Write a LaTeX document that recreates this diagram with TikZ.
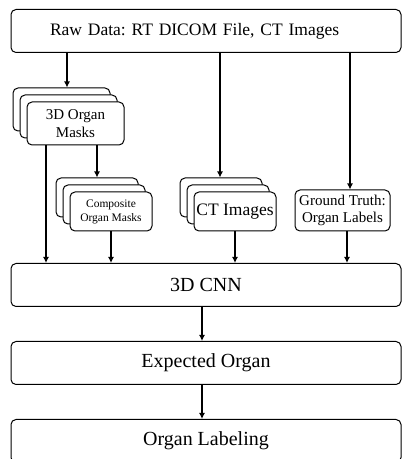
\documentclass[tikz,border=0pt]{standalone}
\usepackage{fontspec}
\setmainfont{Liberation Serif}
\frenchspacing
\usetikzlibrary{arrows.meta, shadows, positioning}
\tikzstyle{arrow} = [line width=1.6pt, -{Latex[length=6pt, width=6pt]}]

\begin{document}
\begin{tikzpicture}[x=1pt, y=1pt,
    every node/.style={rectangle, rounded corners=5pt, draw, line width=1pt, fill=white, align=center, inner sep=1pt},
    wide/.style={minimum width=390pt, minimum height=43pt, font=\fontsize{20}{24}\selectfont},
    stack/.style={double copy shadow={shadow xshift=-7pt, shadow yshift=7pt}},
    small/.style={font=\fontsize{11.5}{14}\selectfont}
  ]
    \useasboundingbox (0,0) rectangle (403,459);

    % Top input
    \node[wide, text width=386pt, align=left, font=\fontsize{17.5}{21}\selectfont] (raw) at (206,428) {\hspace*{37pt}Raw Data: RT DICOM File, CT Images};

    % Intermediate data
    \node[stack, minimum width=97pt, minimum height=43pt, font=\fontsize{15}{18}\selectfont] (masks) at (75.5,335.5) {3D Organ\\Masks\hspace*{0pt}};
    \node[stack, small, minimum width=82pt, minimum height=39pt] (composite) at (111,247.5) {Composite\\Organ Masks};
    \node[stack, minimum width=82pt, minimum height=39pt, font=\fontsize{17.5}{21}\selectfont] (ct) at (235,247.5) {CT Images};
    \node[minimum width=95pt, minimum height=41pt, font=\fontsize{15}{17}\selectfont] (truth) at (342.5,248.5) {Ground Truth:\\Organ Labels};

    % Network and outputs
    \node[wide] (cnn) at (206,174) {3D CNN};
    \node[wide] (expected) at (206,96) {Expected Organ};
    \node[wide] (labeling) at (206,18) {Organ Labeling};

    % Arrows from raw data
    \draw[arrow] ([xshift=-8.5pt]masks.north |- raw.south) -- ([xshift=-8.5pt, yshift=14pt]masks.north);
    \draw[arrow] ([xshift=-15pt]ct.north |- raw.south) -- ([xshift=-15pt, yshift=14pt]ct.north);
    \draw[arrow] ([xshift=7.5pt]truth.north |- raw.south) -- ([xshift=7.5pt]truth.north);

    % Masks
    \draw[arrow] ([xshift=21.5pt]masks.south) -- ([xshift=-14pt, yshift=14pt]composite.north);
    \draw[arrow] ([xshift=-29.5pt]masks.south) -- ([xshift=-29.5pt]masks.south |- cnn.north);

    % Into the CNN
    \draw[arrow] (composite.south) -- (composite.south |- cnn.north);
    \draw[arrow] (ct.south) -- (ct.south |- cnn.north);
    \draw[arrow] ([xshift=4.5pt]truth.south) -- ([xshift=4.5pt]truth.south |- cnn.north);

    % Outputs
    \draw[arrow] ([xshift=-4pt]cnn.south) -- ([xshift=-4pt]expected.north);
    \draw[arrow] ([xshift=-4pt]expected.south) -- ([xshift=-4pt]labeling.north);
  \end{tikzpicture}
\end{document}
